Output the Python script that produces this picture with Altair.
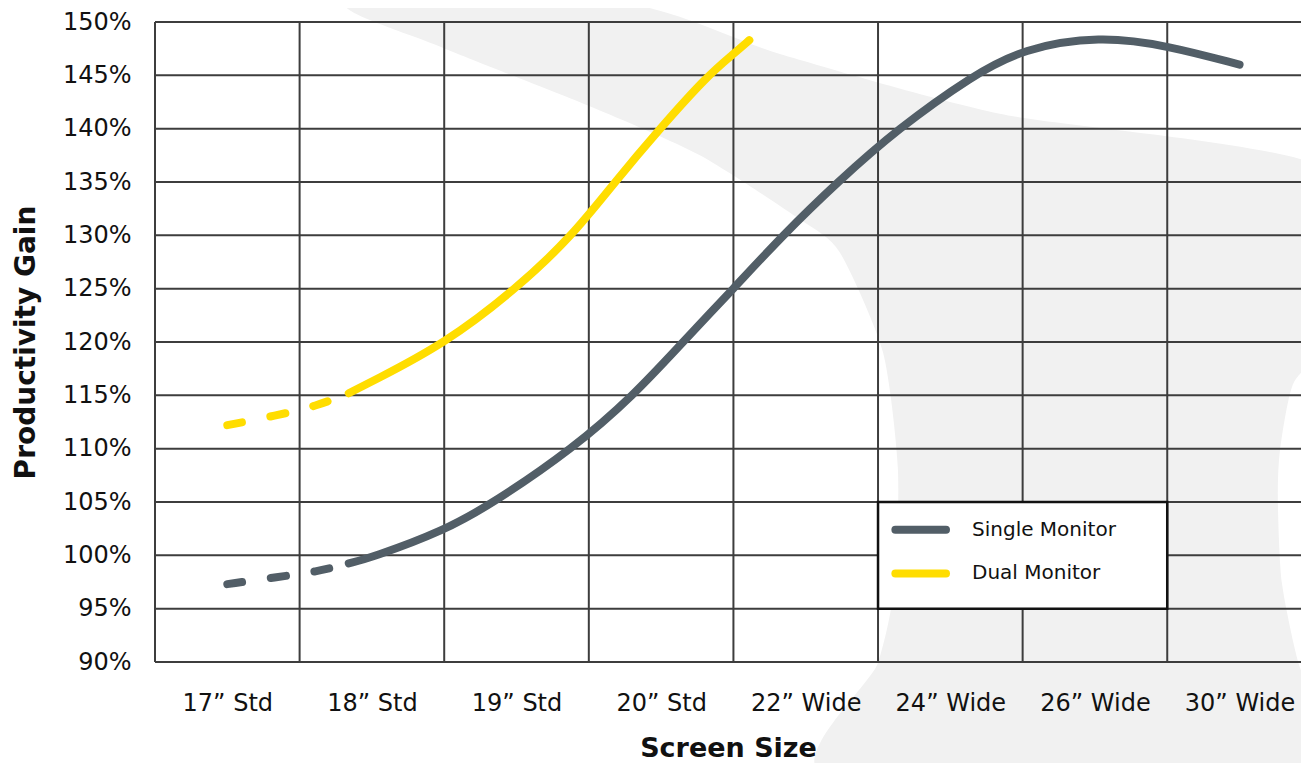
import json
import altair as alt
import pandas as pd

# ---- data ----
categories = ["17” Std", "18” Std", "19” Std", "20” Std", "22” Wide", "24” Wide", "26” Wide", "30” Wide"]
y_ticks = [90, 95, 100, 105, 110, 115, 120, 125, 130, 135, 140, 145, 150]

# positions are in category units (0 = 17" Std, 7 = 30" Wide)
single_x = [0.0, 0.335, 0.619, 0.84, 1.0, 1.5, 1.85, 2.389, 2.811, 3.15, 3.5, 3.84, 4.22, 4.637, 5.156, 5.5, 6.035, 6.5, 7.0]
single_y = [97.3, 97.95, 98.45, 99.25, 99.8, 102.3, 105.0, 110.0, 115.0, 120.0, 125.0, 130.0, 135.0, 140.0, 145.0, 147.5, 148.7, 147.8, 146.0]

dual_x = [0.0, 0.335, 0.619, 0.84, 1.0, 1.5, 2.0, 2.389, 2.68, 2.991, 3.323, 3.5, 3.61]
dual_y = [112.2, 113.1, 114.0, 115.2, 116.3, 119.8, 125.0, 130.0, 135.0, 140.0, 145.0, 147.0, 148.3]

series_names = ["Single Monitor", "Dual Monitor"]
dash_end = 0.84  # part of each curve drawn dashed

# decorative light-grey backdrop shape (category units, percent)
backdrop_x = [0.847, 2.763, 3.821, 5.342, 7.6, 7.6, 7.368, 7.279, 7.265, 7.293, 7.417, 7.6, 7.6,
              4.17, 4.499, 4.616, 4.637, 4.533, 4.236, 3.959, 3.268, 2.507, 1.470]
backdrop_y = [151.7, 151.7, 147.0, 141.4, 136.2, 120.9, 116.0, 109.75, 105.1, 97.4, 89.5, 84.9, 79.0,
              79.0, 89.9, 97.4, 108.2, 119.1, 128.4, 131.5, 137.5, 142.1, 147.7]

# ---- styling ----
GREY = "#525e67"
YELLOW = "#ffdd00"
GRID = "#3d3d3d"
BACK = "#f1f1f1"
FONT = "DejaVu Sans"

rows = []
for name, xs, ys in [(series_names[0], single_x, single_y), (series_names[1], dual_x, dual_y)]:
    for xv, yv in zip(xs, ys):
        rows.append({"series": name, "x": xv, "y": yv})
df = pd.DataFrame(rows)

color_scale = alt.Scale(domain=series_names, range=[GREY, YELLOW])
x_scale = alt.Scale(domain=[-0.5, 7.425], nice=False, zero=False)
y_scale = alt.Scale(domain=[90, 150], nice=False, zero=False)

label_expr = json.dumps(categories, ensure_ascii=False) + "[datum.value]"

x_axis = alt.Axis(
    values=list(range(len(categories))), labelExpr=label_expr, grid=False, ticks=False,
    domain=False, labelFont=FONT, labelFontSize=24, labelColor="#111", labelPadding=29,
    title="Screen Size", titleFont=FONT, titleFontSize=27, titleFontWeight="bold",
    titleColor="#111", titlePadding=20, labelFlush=False, zindex=1,
)
y_axis = alt.Axis(
    values=y_ticks, labelExpr="datum.value + '%'", grid=False,
    ticks=False, domain=False, labelFont=FONT, labelFontSize=24,
    labelColor="#111", labelPadding=24, title="Productivity Gain", titleFont=FONT,
    titleFontSize=28, titleFontWeight="bold", titleColor="#111", titlePadding=22, zindex=1,
)

back_df = pd.DataFrame({"i": list(range(len(backdrop_x))), "x": backdrop_x, "y": backdrop_y})
backdrop = alt.Chart(back_df).mark_line(
    fill=BACK, stroke=BACK, strokeWidth=0, clip=False, interpolate="cardinal-closed", tension=0.3
).encode(
    x=alt.X("x:Q", scale=x_scale, axis=x_axis),
    y=alt.Y("y:Q", scale=y_scale, axis=y_axis),
    order="i:Q",
)

# grid lines
bounds = pd.DataFrame({"b": [i - 0.5 for i in range(len(categories))]})
vgrid = alt.Chart(bounds).mark_rule(color=GRID, strokeWidth=2).encode(
    x=alt.X("b:Q", scale=x_scale)
)
hgrid = alt.Chart(pd.DataFrame({"v": y_ticks})).mark_rule(color=GRID, strokeWidth=2).encode(
    y=alt.Y("v:Q", scale=y_scale)
)

base = alt.Chart(df)
dashed = base.transform_filter(alt.datum.x <= dash_end + 1e-9).mark_line(
    strokeWidth=8, strokeCap="round", strokeDash=[15, 29], interpolate="basis"
).encode(
    x=alt.X("x:Q", scale=x_scale),
    y=alt.Y("y:Q", scale=y_scale),
    color=alt.Color("series:N", scale=color_scale, legend=None),
    detail="series:N",
)
solid = base.transform_filter(alt.datum.x >= dash_end - 1e-9).mark_line(
    strokeWidth=8, strokeCap="round", interpolate="basis"
).encode(
    x=alt.X("x:Q", scale=x_scale),
    y=alt.Y("y:Q", scale=y_scale),
    color=alt.Color("series:N", scale=color_scale, legend=None),
    detail="series:N",
)

# legend drawn inside the plot, over cells 24"-26" Wide / 95%-105%
legend_box = pd.DataFrame({"x": [4.5], "x2": [6.5], "y": [95], "y2": [105]})
box = alt.Chart(legend_box).mark_rect(fill="white", stroke="#111", strokeWidth=2.5).encode(
    x=alt.X("x:Q", scale=x_scale), x2="x2:Q",
    y=alt.Y("y:Q", scale=y_scale), y2="y2:Q",
)
legend_items = pd.DataFrame({
    "series": series_names,
    "x": [4.62, 4.62], "x2": [4.97, 4.97], "tx": [5.15, 5.15], "y": [102.4, 98.3],
})
leg_lines = alt.Chart(legend_items).mark_rule(strokeWidth=8, strokeCap="round").encode(
    x=alt.X("x:Q", scale=x_scale), x2="x2:Q",
    y=alt.Y("y:Q", scale=y_scale),
    color=alt.Color("series:N", scale=color_scale, legend=None),
)
leg_text = alt.Chart(legend_items).mark_text(
    align="left", baseline="middle", font=FONT, fontSize=20, color="#111"
).encode(
    x=alt.X("tx:Q", scale=x_scale),
    y=alt.Y("y:Q", scale=y_scale),
    text="series:N",
)

chart = alt.layer(backdrop, hgrid, vgrid, dashed, solid, box, leg_lines, leg_text).properties(
    width=1146, height=640,
    autosize=alt.AutoSizeParams(type="none"),
    padding={"left": 147, "top": 14, "right": 0, "bottom": 101},
    background="white",
).configure_view(stroke=None)

chart.save("out.html", embed_options={"renderer": "svg", "actions": False})
